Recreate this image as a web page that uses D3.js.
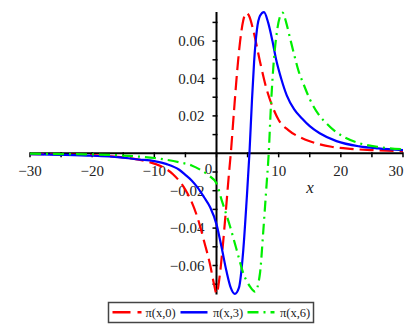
<!DOCTYPE html>
<html>
<head>
<meta charset="utf-8">
<script src="https://cdn.jsdelivr.net/npm/d3@7"></script>
<style>
  body { margin: 0; background: #fff; }
  svg { display: block; }
  text { font-family: "Liberation Serif", "Times New Roman", serif; fill: #222; }
</style>
</head>
<body>
<svg id="chart" width="414" height="333"></svg>
<script>
// values: pi(x,t) for t = 0, 3, 6
const xRed = [-30, -25, -20, -17, -15, -13, -11, -9, -7, -5, -4, -3, -2, -1, -0.4, 0,
  0.5, 1.0, 1.5, 2.0, 2.3, 2.8, 3.3, 3.8, 4.3, 4.8, 5.3, 5.9, 7, 8, 9, 10, 11.5, 13.4, 15, 16.6, 18.5, 21.5, 25, 30];
const yRed = [-0.0004, -0.0006, -0.0010, -0.0016, -0.0022, -0.0031, -0.0045, -0.0068, -0.0112, -0.0195, -0.026, -0.035, -0.047, -0.060, -0.070, -0.075,
  -0.066, -0.050, -0.031, -0.011, 0.0, 0.022, 0.043, 0.060, 0.071, 0.075, 0.073, 0.066, 0.049, 0.035, 0.025, 0.0178, 0.0125, 0.0086, 0.0064, 0.0048, 0.0035, 0.0024, 0.0017, 0.0012];

const xBlue = [-30, -25, -20, -15.5, -12.5, -10, -8, -6, -5, -4, -3, -2, -1, 0,
  0.8, 1.6, 2.3, 2.95, 3.6, 4.3, 4.85, 5.3, 5.7, 6.05, 6.5, 7.0, 7.64, 8.3, 9.0, 9.6, 10.4, 11.3, 12.5, 13.8, 15, 16.6, 19.3, 23, 26, 30];
const yBlue = [-0.0005, -0.0008, -0.0013, -0.0022, -0.0033, -0.0042, -0.0058, -0.0088, -0.0115, -0.0145, -0.0185, -0.0235, -0.029, -0.038,
  -0.050, -0.063, -0.072, -0.0752, -0.072, -0.052, -0.025, 0.0, 0.028, 0.049, 0.066, 0.0735, 0.0755, 0.070, 0.060, 0.050, 0.040, 0.031, 0.0235, 0.0185, 0.0145, 0.0107, 0.0065, 0.0037, 0.0026, 0.0017];

const xGreen = [-30, -25, -20, -15, -12, -10, -8, -6, -4, -2.5, -1.2, 0,
  0.83, 2.17, 3.25, 4.3, 5.4, 6.2, 7.0, 7.5, 8.07, 8.4, 8.72, 9.14, 9.68, 10.2, 10.64, 11.2, 11.8, 12.4, 13.2, 14.0, 15.0, 16.6, 17.7, 19, 20.4, 23.1, 26.3, 30];
const yGreen = [-0.0002, -0.0004, -0.0006, -0.0012, -0.0019, -0.0025, -0.0035, -0.0048, -0.0065, -0.009, -0.012, -0.016,
  -0.025, -0.039, -0.0517, -0.064, -0.0713, -0.074, -0.064, -0.0428, -0.016, 0.0, 0.023, 0.046, 0.064, 0.073, 0.0752, 0.070, 0.062, 0.054, 0.044, 0.037, 0.029, 0.020, 0.016, 0.012, 0.0089, 0.0053, 0.0033, 0.0021];

const xTicks = [-30, -20, -10, 0, 10, 20, 30];
const xMinor = [-25, -15, -5, 5, 15, 25];
const yTicks = [-0.06, -0.04, -0.02, 0.02, 0.04, 0.06];
const yMinor = [-0.07, -0.05, -0.03, -0.01, 0.01, 0.03, 0.05, 0.07];
const seriesNames = ['\u03c0(x,0)', '\u03c0(x,3)', '\u03c0(x,6)'];

const svg = d3.select('#chart');

// scales
const x = d3.scaleLinear().domain([-30, 30]).range([30, 403]);
const y = d3.scaleLinear().domain([0, 0.06]).range([153.3, 41.1]);

const fmtX = (d) => (d < 0 ? '\u2212' + Math.abs(d) : String(d));
const fmtY = (d) => (d < 0 ? '\u2212' : '') + Math.abs(d).toFixed(2);

const axes = svg.append('g');

// x axis line and ticks
axes.append('line')
  .attr('x1', x(-30)).attr('x2', x(30))
  .attr('y1', y(0)).attr('y2', y(0))
  .attr('stroke', '#000').attr('stroke-width', 2);

axes.selectAll('.xt')
  .data(xTicks.concat(xMinor))
  .join('line')
  .attr('x1', (d) => x(d)).attr('x2', (d) => x(d))
  .attr('y1', y(0) - 1).attr('y2', y(0) + 4)
  .attr('stroke', '#000').attr('stroke-width', 1.5);

// y axis line and ticks
axes.append('line')
  .attr('x1', x(0)).attr('x2', x(0))
  .attr('y1', y(0.0755)).attr('y2', y(-0.0755))
  .attr('stroke', '#000').attr('stroke-width', 2);

axes.selectAll('.yt')
  .data(yTicks.concat(yMinor))
  .join('line')
  .attr('x1', x(0) - 4).attr('x2', x(0) + 1)
  .attr('y1', (d) => y(d)).attr('y2', (d) => y(d))
  .attr('stroke', '#000').attr('stroke-width', 1.5);

// tick labels
axes.selectAll('.xl')
  .data(xTicks)
  .join('text')
  .attr('x', (d) => (d === 0 ? x(0) - 8 : d === 30 ? x(30) - 7 : x(d)))
  .attr('y', (d) => (d === 0 ? 174 : 176))
  .attr('text-anchor', 'middle')
  .style('font-size', '15px')
  .text(fmtX);

axes.selectAll('.yl')
  .data(yTicks)
  .join('text')
  .attr('x', x(0) - 12)
  .attr('y', (d) => y(d))
  .attr('dy', '0.35em')
  .attr('text-anchor', 'end')
  .style('font-size', '15px')
  .text(fmtY);

axes.append('text')
  .attr('x', 310).attr('y', 193)
  .attr('text-anchor', 'middle')
  .style('font-size', '17px')
  .style('font-style', 'italic')
  .text('x');

// curves
const line = d3.line()
  .x((d) => x(d[0]))
  .y((d) => y(d[1]))
  .curve(d3.curveMonotoneX);

const series = [
  { xs: xRed, ys: yRed, color: '#ff0000', dash: '14,6' },
  { xs: xBlue, ys: yBlue, color: '#0000ff', dash: null },
  { xs: xGreen, ys: yGreen, color: '#00ee00', dash: '11,5,2,5' }
];

series.forEach((s) => {
  svg.append('path')
    .datum(d3.zip(s.xs, s.ys))
    .attr('d', line)
    .attr('fill', 'none')
    .attr('stroke', s.color)
    .attr('stroke-width', 2.2)
    .attr('stroke-dasharray', s.dash);
});

// legend
const legend = svg.append('g');
legend.append('rect')
  .attr('x', 108.5).attr('y', 302.5)
  .attr('width', 205).attr('height', 20)
  .attr('fill', '#fff')
  .attr('stroke', '#444').attr('stroke-width', 1.5);

const legendX = [112.5, 180.5, 247.5];
const legendW = [29, 27, 27];
const legendTextX = [145.5, 213, 280];

series.forEach((s, i) => {
  legend.append('line')
    .attr('x1', legendX[i]).attr('x2', legendX[i] + legendW[i])
    .attr('y1', 312.3).attr('y2', 312.3)
    .attr('stroke', s.color)
    .attr('stroke-width', 2.5)
    .attr('stroke-dasharray', i === 0 ? '18,7' : s.dash);
  legend.append('text')
    .attr('x', legendTextX[i]).attr('y', 316.5)
    .style('font-size', '12.5px')
    .text(seriesNames[i]);
});
</script>
</body>
</html>
